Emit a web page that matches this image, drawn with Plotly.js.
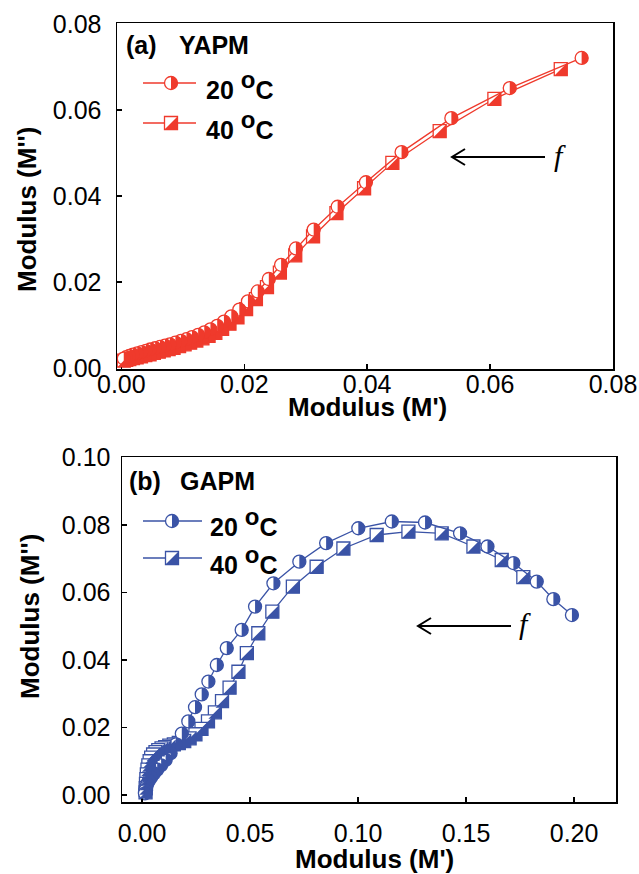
<!DOCTYPE html>
<html><head><meta charset="utf-8">
<script src="https://cdn.plot.ly/plotly-3.0.1.min.js"></script>
<style>html,body{margin:0;padding:0;background:#fff;} #chart{width:639px;height:874px;}</style>
</head><body><div id="chart"></div>
<script>
// ---------- Data: panel (a) YAPM ----------
const a20_x = [0.0749, 0.0632, 0.0537, 0.0456, 0.0398, 0.0352, 0.0313, 0.0284, 0.0260, 0.0240, 0.0222, 0.0206, 0.0192, 0.0179, 0.0167, 0.0156, 0.0145, 0.0135, 0.0125, 0.0115, 0.0106, 0.0097, 0.0088, 0.0079, 0.0071, 0.0063, 0.0055, 0.0047, 0.0040, 0.0033, 0.0026, 0.0019, 0.0013, 0.0008, 0.0004];
const a20_y = [0.0721, 0.0651, 0.0581, 0.0502, 0.0432, 0.0375, 0.0322, 0.0278, 0.0240, 0.0207, 0.0178, 0.0155, 0.0136, 0.0120, 0.0108, 0.0098, 0.0090, 0.0083, 0.0077, 0.0072, 0.0067, 0.0063, 0.0059, 0.0055, 0.0052, 0.0049, 0.0046, 0.0043, 0.0040, 0.0037, 0.0034, 0.0031, 0.0028, 0.0025, 0.0022];
const a40_x = [0.0715, 0.0607, 0.0518, 0.0441, 0.0395, 0.0350, 0.0312, 0.0283, 0.0258, 0.0237, 0.0219, 0.0203, 0.0189, 0.0176, 0.0164, 0.0153, 0.0142, 0.0132, 0.0122, 0.0112, 0.0103, 0.0094, 0.0085, 0.0077, 0.0069, 0.0061, 0.0053, 0.0046, 0.0039, 0.0032, 0.0025, 0.0019, 0.0013, 0.0008, 0.0004];
const a40_y = [0.0695, 0.0626, 0.0551, 0.0477, 0.0418, 0.0360, 0.0306, 0.0262, 0.0222, 0.0188, 0.0160, 0.0137, 0.0118, 0.0103, 0.0091, 0.0082, 0.0075, 0.0069, 0.0064, 0.0059, 0.0055, 0.0051, 0.0047, 0.0044, 0.0041, 0.0038, 0.0035, 0.0032, 0.0030, 0.0027, 0.0025, 0.0023, 0.0021, 0.0019, 0.0017];

// ---------- Data: panel (b) GAPM ----------
const b20_x = [0.1990, 0.1904, 0.1827, 0.1719, 0.1599, 0.1472, 0.1310, 0.1156, 0.1001, 0.0852, 0.0728, 0.0608, 0.0523, 0.0461, 0.0392, 0.0346, 0.0307, 0.0276, 0.0245, 0.0214, 0.0184, 0.0157, 0.0132, 0.0109, 0.0088, 0.0070, 0.0055, 0.0042, 0.0032, 0.0024, 0.0019, 0.0015, 0.0013];
const b20_y = [0.0533, 0.0580, 0.0632, 0.0687, 0.0736, 0.0775, 0.0807, 0.0810, 0.0790, 0.0746, 0.0691, 0.0627, 0.0558, 0.0489, 0.0435, 0.0385, 0.0336, 0.0298, 0.0260, 0.0218, 0.0182, 0.0150, 0.0124, 0.0104, 0.0088, 0.0075, 0.0064, 0.0053, 0.0043, 0.0033, 0.0023, 0.0014, 0.0005];
const b40_x = [0.1765, 0.1665, 0.1534, 0.1387, 0.1233, 0.1086, 0.0932, 0.0808, 0.0698, 0.0603, 0.0538, 0.0485, 0.0446, 0.0405, 0.0370, 0.0337, 0.0305, 0.0275, 0.0247, 0.0220, 0.0195, 0.0170, 0.0147, 0.0126, 0.0107, 0.0090, 0.0075, 0.0062, 0.0051, 0.0042, 0.0035, 0.0029, 0.0025, 0.0022, 0.0020, 0.0018, 0.0017, 0.0016];
const b40_y = [0.0645, 0.0696, 0.0736, 0.0775, 0.0780, 0.0770, 0.0730, 0.0676, 0.0617, 0.0543, 0.0479, 0.0420, 0.0365, 0.0318, 0.0278, 0.0245, 0.0218, 0.0196, 0.0180, 0.0168, 0.0160, 0.0154, 0.0150, 0.0146, 0.0142, 0.0138, 0.0133, 0.0127, 0.0120, 0.0111, 0.0100, 0.0088, 0.0075, 0.0061, 0.0047, 0.0033, 0.0020, 0.0008];

// ---------- Ticks & labels ----------
const tickA = [0, 0.02, 0.04, 0.06, 0.08];
const tickAText = ['0.00', '0.02', '0.04', '0.06', '0.08'];
const tickBx = [0, 0.05, 0.10, 0.15, 0.20];
const tickBxText = ['0.00', '0.05', '0.10', '0.15', '0.20'];
const tickBy = [0, 0.02, 0.04, 0.06, 0.08, 0.10];
const tickByText = ['0.00', '0.02', '0.04', '0.06', '0.08', '0.10'];
const seriesTemps = ['20', '40'];
const panelTags = ['(a)', '(b)'];
const panelNames = ['YAPM', 'GAPM'];
const xTitle = "Modulus (M')";
const yTitle = "Modulus (M'')";
const arrowLabel = 'f';

// ---------- Styling ----------
const RED = '#EF3A2C', BLUE = '#3A53A6';
const W = 639, H = 874;
const FONT = 'Liberation Sans, Arial, sans-serif';
const px = v => v / W, py = v => 1 - v / H;
const MS = 13, R = 6.5;

let halfCircle = 'M0,' + (-R);
for (let a = -90; a <= 90; a += 10) {
  const t = a * Math.PI / 180;
  halfCircle += ' L' + (R * Math.cos(t)).toFixed(2) + ',' + (R * Math.sin(t)).toFixed(2);
}
halfCircle += ' Z';
const halfSquare = 'M' + (-R) + ',' + (-R) + ' L' + R + ',' + (-R) + ' L' + R + ',' + R + ' Z';

function halfShapes(xs, ys, kind, color, xref, yref) {
  return xs.map((x, i) => ({
    type: 'path', xref: xref, yref: yref, xsizemode: 'pixel', ysizemode: 'pixel',
    xanchor: x, yanchor: ys[i], path: kind === 'circle' ? halfCircle : halfSquare,
    fillcolor: color, line: {width: 0}, layer: 'above'
  }));
}

function series(xs, ys, sym, color, xa, ya) {
  return {
    x: xs, y: ys, xaxis: xa, yaxis: ya, type: 'scatter', mode: 'lines+markers',
    line: {color: color, width: 1.3},
    marker: {symbol: sym, size: MS, color: 'white', line: {color: color, width: 1.3}},
    showlegend: false, hoverinfo: 'skip'
  };
}

const data = [
  series(a40_x, a40_y, 'square', RED, 'x', 'y'),
  series(a20_x, a20_y, 'circle', RED, 'x', 'y'),
  series(b40_x, b40_y, 'square', BLUE, 'x2', 'y2'),
  series(b20_x, b20_y, 'circle', BLUE, 'x2', 'y2')
];

let shapes = [];
shapes = shapes.concat(halfShapes(a40_x, a40_y, 'square', RED, 'x', 'y'));
shapes = shapes.concat(halfShapes(a20_x, a20_y, 'circle', RED, 'x', 'y'));
shapes = shapes.concat(halfShapes(b40_x, b40_y, 'square', BLUE, 'x2', 'y2'));
shapes = shapes.concat(halfShapes(b20_x, b20_y, 'circle', BLUE, 'x2', 'y2'));

function legendEntry(x0, x1, xm, yl, kind, color) {
  const out = [];
  out.push({type: 'line', xref: 'paper', yref: 'paper', x0: px(x0), x1: px(x1), y0: py(yl), y1: py(yl), line: {color: color, width: 1.3}, layer: 'above'});
  out.push({type: kind === 'circle' ? 'circle' : 'rect', xref: 'paper', yref: 'paper', xsizemode: 'pixel', ysizemode: 'pixel',
    xanchor: px(xm), yanchor: py(yl), x0: -R, x1: R, y0: -R, y1: R, fillcolor: 'white', line: {color: color, width: 1.3}, layer: 'above'});
  out.push({type: 'path', xref: 'paper', yref: 'paper', xsizemode: 'pixel', ysizemode: 'pixel',
    xanchor: px(xm), yanchor: py(yl), path: kind === 'circle' ? halfCircle : halfSquare, fillcolor: color, line: {width: 0}, layer: 'above'});
  return out;
}
shapes = shapes.concat(legendEntry(143, 196, 171, 83, 'circle', RED));
shapes = shapes.concat(legendEntry(143, 196, 171, 123, 'square', RED));
shapes = shapes.concat(legendEntry(143, 202, 172, 521, 'circle', BLUE));
shapes = shapes.concat(legendEntry(143, 202, 172, 558, 'square', BLUE));

function arrowPath(xh, xt, y) {
  return {type: 'path', xref: 'paper', yref: 'paper',
    path: 'M' + px(xt) + ',' + py(y) + ' L' + px(xh) + ',' + py(y) +
      ' M' + px(xh + 13) + ',' + py(y - 8) + ' L' + px(xh) + ',' + py(y) + ' L' + px(xh + 13) + ',' + py(y + 8),
    line: {color: '#000', width: 2}, layer: 'above'};
}
shapes.push(arrowPath(452, 545, 157));
shapes.push(arrowPath(418, 511, 626));

function txt(text, x, y, opts) {
  return Object.assign({text: text, x: px(x), y: py(y), xref: 'paper', yref: 'paper', showarrow: false,
    xanchor: 'left', yanchor: 'middle', font: {family: FONT, size: 25, color: '#000'}}, opts || {});
}
function tempLabel(t) {
  return '<b>' + t + ' <sup><span style="font-size:24px">o</span></sup>C</b>';
}
const annotations = [
  txt('<b>' + panelTags[0] + '</b>', 124, 45),
  txt('<b>' + panelNames[0] + '</b>', 177, 45),
  txt(tempLabel(seriesTemps[0]), 204, 85),
  txt(tempLabel(seriesTemps[1]), 204, 125),
  txt('<b>' + panelTags[1] + '</b>', 127, 481),
  txt('<b>' + panelNames[1] + '</b>', 178, 481),
  txt(tempLabel(seriesTemps[0]), 208, 522),
  txt(tempLabel(seriesTemps[1]), 208, 560),
  txt('<i>' + arrowLabel + '</i>', 560, 156, {xanchor: 'center', font: {family: 'Liberation Serif, serif', size: 30, color: '#000'}}),
  txt('<i>' + arrowLabel + '</i>', 525, 623, {xanchor: 'center', font: {family: 'Liberation Serif, serif', size: 30, color: '#000'}}),
  txt('<b>' + xTitle + '</b>', 367, 407, {xanchor: 'center', font: {family: FONT, size: 26, color: '#000'}}),
  txt('<b>' + xTitle + '</b>', 374, 859, {xanchor: 'center', font: {family: FONT, size: 26, color: '#000'}}),
  txt('<b>' + yTitle + '</b>', 27, 210, {xanchor: 'center', textangle: -90, font: {family: FONT, size: 26, color: '#000'}}),
  txt('<b>' + yTitle + '</b>', 30, 617, {xanchor: 'center', textangle: -90, font: {family: FONT, size: 26, color: '#000'}})
];

const axBase = {
  ticks: 'inside', ticklen: 5, tickwidth: 1.3, tickcolor: '#000',
  showline: true, linewidth: 1.5, linecolor: '#000', mirror: true,
  showgrid: false, zeroline: false, tickmode: 'array',
  tickfont: {family: FONT, size: 25, color: '#000'}
};

const layout = {
  width: W, height: H, autosize: false,
  margin: {l: 0, r: 0, t: 0, b: 0},
  paper_bgcolor: '#fff', plot_bgcolor: '#fff',
  xaxis: Object.assign({}, axBase, {domain: [px(117), px(613)], range: [-0.0007, 0.0800], anchor: 'y',
    tickvals: tickA, ticktext: tickAText, ticklabelstandoff: -8}),
  yaxis: Object.assign({}, axBase, {domain: [py(369), py(23)], range: [-0.00023, 0.08023], anchor: 'x',
    tickvals: tickA, ticktext: tickAText, ticklabelstandoff: 9}),
  xaxis2: Object.assign({}, axBase, {domain: [px(122), px(616)], range: [-0.0093, 0.2194], anchor: 'y2',
    tickvals: tickBx, ticktext: tickBxText, ticklabelstandoff: 8}),
  yaxis2: Object.assign({}, axBase, {domain: [py(802), py(457)], range: [-0.00207, 0.1001], anchor: 'x2',
    tickvals: tickBy, ticktext: tickByText, ticklabelstandoff: 5}),
  shapes: shapes,
  annotations: annotations
};

Plotly.newPlot('chart', data, layout, {staticPlot: true, displayModeBar: false});
</script>
</body></html>
